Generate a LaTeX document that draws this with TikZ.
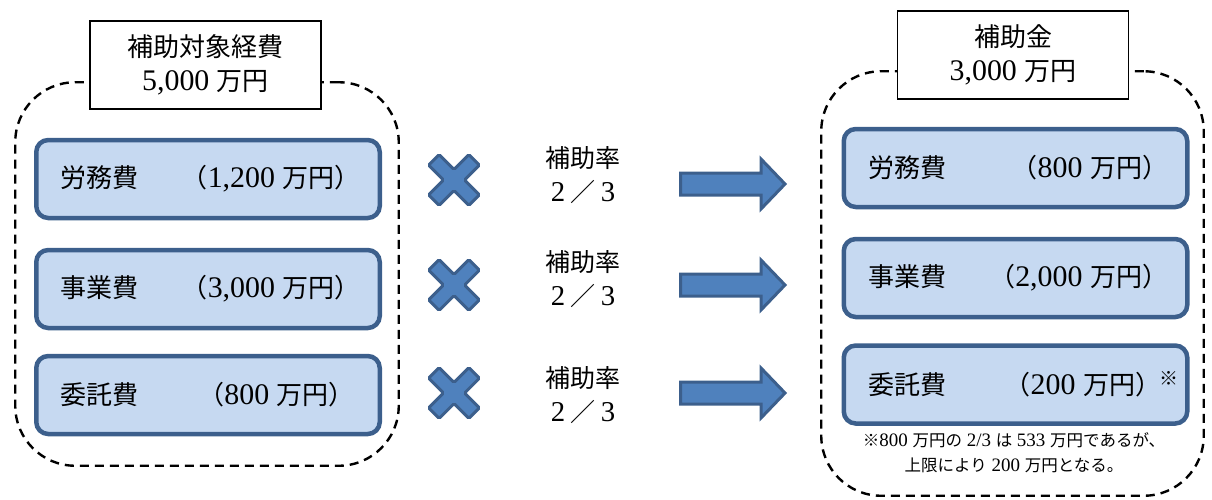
\documentclass[tikz,border=0pt]{standalone}
\usepackage{fontspec}
\setmainfont{Noto Sans CJK JP}
\newfontfamily\latfont{Liberation Serif}[Scale=1.15]
\newcommand{\lat}[1]{{\latfont #1}}
\newcommand{\zen}[1]{\makebox[1em]{\lat{#1}}}
\usetikzlibrary{positioning}
\definecolor{boxfill}{HTML}{C6D9F1}
\definecolor{boxline}{HTML}{3C5F8C}
\definecolor{markfill}{HTML}{4F81BD}
\begin{document}
\begin{tikzpicture}[x=1pt, y=-1pt,
    groupbox/.style={draw=black, line width=2.4pt, dash pattern=on 9pt off 6pt, rounded corners=60pt, inner sep=0pt},
    titlebox/.style={draw=black, fill=white, line width=1.8pt, minimum width=231pt, minimum height=88pt, inner sep=0pt, align=center, font=\fontsize{26}{34}\selectfont},
    costbox/.style={draw=boxline, fill=boxfill, line width=4.5pt, rounded corners=12pt, minimum width=343.5pt, minimum height=78pt, inner sep=0pt, font=\fontsize{26}{30}\selectfont},
    ratelabel/.style={align=center, font=\fontsize{25}{34}\selectfont},
    blockmark/.style={draw=boxline, fill=markfill, line width=3pt}]
    \useasboundingbox (0,0) rectangle (1212,499);

    %% dashed groups with their titles
    \node[groupbox, minimum width=383.5pt, minimum height=383.5pt] (Lgroup) at (207,274) {};
    \node[groupbox, minimum width=382.5pt, minimum height=424.5pt] (Rgroup) at (1012.5,283.5) {};
    \node[titlebox] (Ltitle) at (205.5,65) {補助対象経費\\\lat{5,000 }万円};
    \node[titlebox] (Rtitle) at (1013,55) {補助金\\\lat{3,000 }万円};

    %% expenses (left) and grants (right)
    \foreach \n/\y/\t/\v in
    {1/179/労務費/{（\lat{1,200 }万円）},
        2/289/事業費/{（\lat{3,000 }万円）},
        3/395/委託費/{（\lat{800 }万円）}
    }
    {
        \node[costbox] (Lcost\n) at (208,\y) {\makebox[305pt]{\hspace{5pt}\t\hfill\v}};
    };
    \node[costbox] (Rcost1) at (1015.5,168) {\makebox[305pt]{\hspace{5pt}労務費\hfill（\lat{800 }万円）}};
    \node[costbox] (Rcost2) at (1015.5,278) {\makebox[305pt]{\hspace{5pt}事業費\hfill（\lat{2,000 }万円）}};
    \node[costbox] (Rcost3) at (1015.5,384.5) {\makebox[305pt]{\hspace{5pt}委託費\hfill（\lat{200 }万円）\hspace{7pt}\rlap{\hspace{-9pt}\raisebox{9pt}{\fontsize{19}{19}\selectfont ※}}}};
    \node[align=center, font=\fontsize{16.5}{25}\selectfont] (Note) at (1014,452.5)
        {※\lat{800 }万円の\lat{ 2/3 }は\lat{ 533 }万円であるが、\\上限により\lat{ 200 }万円となる。};

    %% times marks, rates and block arrows
    \foreach \n/\y/\r/\a in {1/180/175/184, 2/285/279.5/285, 3/393/395/393}
    {
        \draw[blockmark, rounded corners=1.5pt, shift={(454,\y)}, rotate=45]
        (7.5,7.5) -- (28.5,7.5) -- (28.5,-7.5) -- (7.5,-7.5) -- (7.5,-28.5) -- (-7.5,-28.5)
        -- (-7.5,-7.5) -- (-28.5,-7.5) -- (-28.5,7.5) -- (-7.5,7.5) -- (-7.5,28.5) -- (7.5,28.5) -- cycle;
        \node[ratelabel] (Rate\n) at (583,\r) {補助率\\\zen{2}／\zen{3}};
        \draw[blockmark, shift={(0,\a)}]
        (680.5,-11) -- (761,-11) -- (761,-25) -- (785,0) -- (761,25) -- (761,11) -- (680.5,11) -- cycle;
    };
\end{tikzpicture}
\end{document}
